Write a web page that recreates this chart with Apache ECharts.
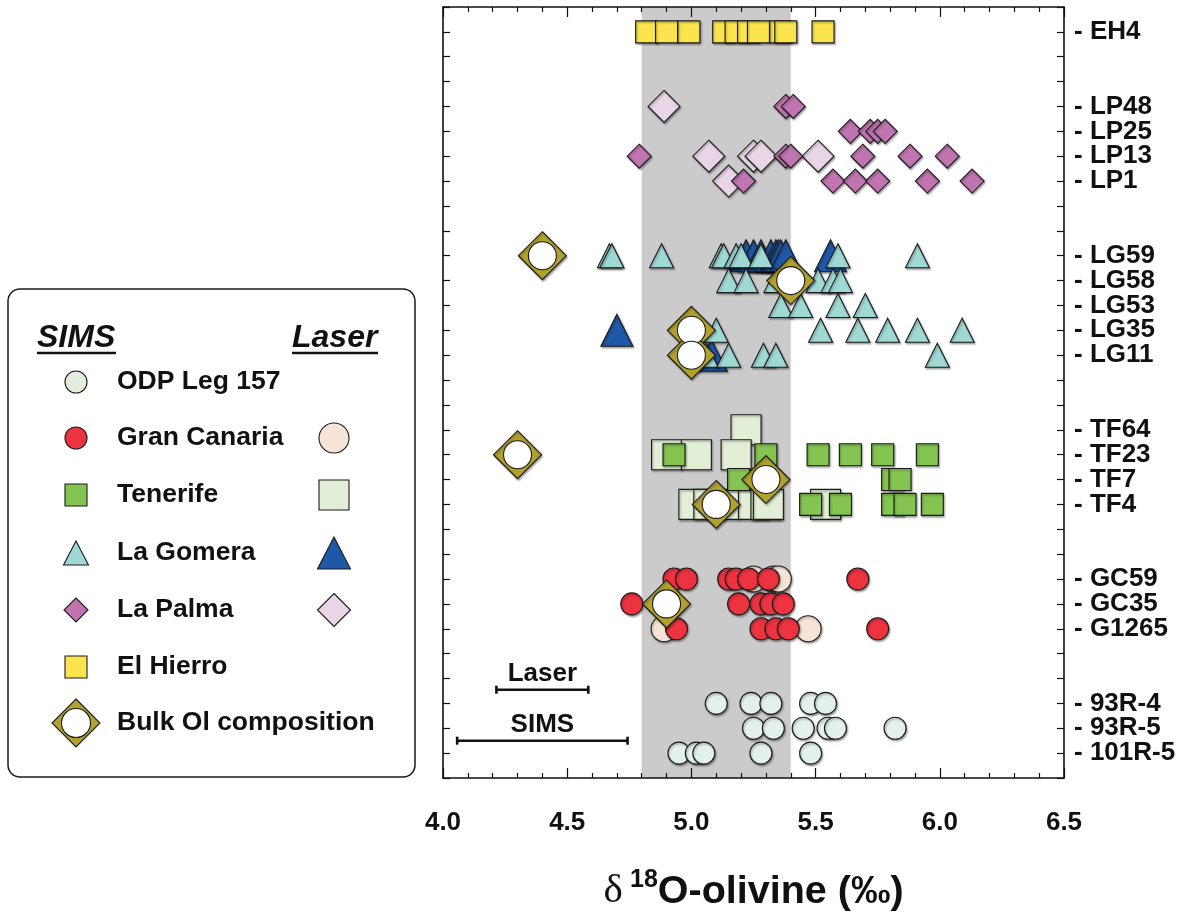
<!DOCTYPE html>
<html>
<head>
<meta charset="utf-8">
<title>δ18O olivine – Canary Islands</title>
<script src="https://cdn.jsdelivr.net/npm/echarts@6/dist/echarts.min.js"></script>
<style>
  html, body { margin: 0; padding: 0; background: #ffffff; }
  #chart { width: 1193px; height: 920px; }
</style>
</head>
<body>
<div id="chart"></div>
<script>
// Sample rows, bottom to top; the index is the row's position on the y axis.
const rowLabels = ['', '101R-5', '93R-5', '93R-4', '', '', 'G1265', 'GC35', 'GC59', '', '',
  'TF4', 'TF7', 'TF23', 'TF64', '', '', 'LG11', 'LG35', 'LG53', 'LG58', 'LG59', '', '',
  'LP1', 'LP13', 'LP25', 'LP48', '', '', 'EH4', ''];

const xTicks = [4.0, 4.5, 5.0, 5.5, 6.0, 6.5];
const mantleRange = [4.8, 5.4];

// δ18O olivine (‰) per sample: [sample, value]
const odpSims = [
  ['93R-4', 5.10], ['93R-4', 5.24], ['93R-4', 5.32], ['93R-4', 5.48], ['93R-4', 5.54],
  ['93R-5', 5.25], ['93R-5', 5.33], ['93R-5', 5.45], ['93R-5', 5.55], ['93R-5', 5.58], ['93R-5', 5.82],
  ['101R-5', 4.95], ['101R-5', 5.02], ['101R-5', 5.05], ['101R-5', 5.28], ['101R-5', 5.48]
];
const granCanariaSims = [
  ['GC59', 4.93], ['GC59', 4.98], ['GC59', 5.15], ['GC59', 5.18], ['GC59', 5.23], ['GC59', 5.31], ['GC59', 5.67],
  ['GC35', 4.76], ['GC35', 5.19], ['GC35', 5.28], ['GC35', 5.32], ['GC35', 5.37],
  ['G1265', 4.94], ['G1265', 5.28], ['G1265', 5.34], ['G1265', 5.39], ['G1265', 5.75]
];
const granCanariaLaser = [
  ['GC59', 5.25], ['GC59', 5.33], ['GC59', 5.35],
  ['G1265', 4.89], ['G1265', 5.47]
];
const tenerifeSims = [
  ['TF23', 4.93], ['TF23', 5.30], ['TF23', 5.51], ['TF23', 5.64], ['TF23', 5.77], ['TF23', 5.95],
  ['TF7', 5.19], ['TF7', 5.81], ['TF7', 5.84],
  ['TF4', 5.48], ['TF4', 5.60], ['TF4', 5.81], ['TF4', 5.86], ['TF4', 5.97]
];
const tenerifeLaser = [
  ['TF64', 5.22],
  ['TF23', 4.90], ['TF23', 5.02], ['TF23', 5.18],
  ['TF4', 5.01], ['TF4', 5.07], ['TF4', 5.13], ['TF4', 5.25], ['TF4', 5.30], ['TF4', 5.31], ['TF4', 5.54]
];
const laGomeraSims = [
  ['LG59', 4.67], ['LG59', 4.68], ['LG59', 4.88], ['LG59', 5.12], ['LG59', 5.13], ['LG59', 5.18],
  ['LG59', 5.20], ['LG59', 5.28], ['LG59', 5.59], ['LG59', 5.91],
  ['LG58', 5.15], ['LG58', 5.22], ['LG58', 5.34], ['LG58', 5.51], ['LG58', 5.57], ['LG58', 5.60],
  ['LG53', 5.36], ['LG53', 5.44], ['LG53', 5.59], ['LG53', 5.70],
  ['LG35', 5.10], ['LG35', 5.52], ['LG35', 5.67], ['LG35', 5.79], ['LG35', 5.91], ['LG35', 6.09],
  ['LG11', 5.06], ['LG11', 5.15], ['LG11', 5.29], ['LG11', 5.34], ['LG11', 5.99]
];
const laGomeraLaser = [
  ['LG59', 5.22], ['LG59', 5.25], ['LG59', 5.28], ['LG59', 5.32], ['LG59', 5.34],
  ['LG59', 5.35], ['LG59', 5.36], ['LG59', 5.38], ['LG59', 5.56],
  ['LG35', 4.70],
  ['LG11', 5.08]
];
const laPalmaSims = [
  ['LP48', 5.38], ['LP48', 5.41],
  ['LP25', 5.64], ['LP25', 5.72], ['LP25', 5.75], ['LP25', 5.78],
  ['LP13', 4.79], ['LP13', 5.38], ['LP13', 5.40], ['LP13', 5.69], ['LP13', 5.88], ['LP13', 6.03],
  ['LP1', 5.21], ['LP1', 5.57], ['LP1', 5.66], ['LP1', 5.75], ['LP1', 5.95], ['LP1', 6.13]
];
const laPalmaLaser = [
  ['LP48', 4.89],
  ['LP13', 5.07], ['LP13', 5.25], ['LP13', 5.28], ['LP13', 5.51],
  ['LP1', 5.15]
];
const elHierroSims = [
  ['EH4', 4.82], ['EH4', 4.90], ['EH4', 4.99], ['EH4', 5.13], ['EH4', 5.18],
  ['EH4', 5.23], ['EH4', 5.27], ['EH4', 5.36], ['EH4', 5.38], ['EH4', 5.53]
];
const bulkOlivine = [
  ['LG59', 4.40], ['LG58', 5.40], ['LG35', 5.00], ['LG11', 5.00],
  ['TF23', 4.30], ['TF7', 5.30], ['TF4', 5.10], ['GC35', 4.90]
];

// Analytical precision (±‰) shown as scale bars
const precisionNames = ['Laser', 'SIMS'];
const precisionHalfRange = [0.185, 0.343];
const precisionCentre = 4.40;

// ---------------------------------------------------------------------------
const FONT = "'Liberation Sans', Arial, Helvetica, sans-serif";
const INK = '#111111';
const EDGE = { borderColor: '#1a1a1a', borderWidth: 1.1,
  shadowColor: 'rgba(0,0,0,0.35)', shadowBlur: 2, shadowOffsetX: 1, shadowOffsetY: 1.5 };

const toPoints = rows => rows.map(([s, v]) => [v, rowLabels.indexOf(s)]);

function scatter(name, rows, symbol, size, color, extra) {
  return Object.assign({
    name, type: 'scatter', data: toPoints(rows), symbol, symbolSize: size,
    itemStyle: Object.assign({ color, opacity: 1 }, EDGE),
    emphasis: { disabled: true }, silent: true, z: 3
  }, extra || {});
}

const axisLineStyle = { color: INK, width: 1.6 };
const tickStyle = { color: INK, width: 1.2 };

function xAxisDef(position, showLabel) {
  return {
    type: 'value', position, min: xTicks[0], max: xTicks[xTicks.length - 1],
    interval: xTicks[1] - xTicks[0], z: 6,
    axisLine: { show: true, onZero: false, lineStyle: axisLineStyle },
    axisTick: { show: true, inside: true, length: 10, lineStyle: tickStyle },
    minorTick: { show: true, splitNumber: 5, length: 5, lineStyle: tickStyle },
    splitLine: { show: false },
    axisLabel: {
      show: showLabel, margin: 32, color: INK, fontFamily: FONT, fontWeight: 'bold', fontSize: 26,
      formatter: v => v.toFixed(1)
    }
  };
}

function yAxisDef(position, showLabel) {
  return {
    type: 'value', position, min: 0, max: rowLabels.length - 1, interval: 1, z: 6,
    axisLine: { show: true, onZero: false, lineStyle: axisLineStyle },
    axisTick: { show: true, inside: true, length: 7, lineStyle: tickStyle },
    splitLine: { show: false },
    axisLabel: {
      show: showLabel, margin: 10, color: INK, fontFamily: FONT, fontWeight: 'bold', fontSize: 26,
      formatter: v => (rowLabels[v] ? '- ' + rowLabels[v] : '')
    }
  };
}

// Legend panel --------------------------------------------------------------
const LX_SIMS = 76, LX_LASER = 334, LX_TEXT = 117;
const legendRows = [
  { label: 'ODP Leg 157', y: 382 },
  { label: 'Gran Canaria', y: 438 },
  { label: 'Tenerife', y: 495 },
  { label: 'La Gomera', y: 553 },
  { label: 'La Palma', y: 610 },
  { label: 'El Hierro', y: 667 },
  { label: 'Bulk Ol composition', y: 723 }
];
const gStroke = { stroke: '#1a1a1a', lineWidth: 1.1 };
const circleG = (x, y, r, fill) => ({ type: 'circle', shape: { cx: x, cy: y, r }, style: Object.assign({ fill }, gStroke) });
const squareG = (x, y, s, fill) => ({ type: 'rect', shape: { x: x - s / 2, y: y - s / 2, width: s, height: s }, style: Object.assign({ fill }, gStroke) });
const triG = (x, y, w, h, fill) => ({ type: 'polygon', shape: { points: [[x, y - h / 2], [x + w / 2, y + h / 2], [x - w / 2, y + h / 2]] }, style: Object.assign({ fill }, gStroke) });
const diaG = (x, y, r, fill) => ({ type: 'polygon', shape: { points: [[x, y - r], [x + r, y], [x, y + r], [x - r, y]] }, style: Object.assign({ fill }, gStroke) });

const legendGraphics = [
  { type: 'rect', shape: { x: 8, y: 289, width: 407, height: 488, r: 12 },
    style: { fill: '#ffffff', stroke: '#1a1a1a', lineWidth: 1.5 } },
  { type: 'text', x: 37, y: 338, style: { text: 'SIMS', font: "italic bold 32px " + FONT, fill: INK, verticalAlign: 'middle' } },
  { type: 'text', x: 292, y: 338, style: { text: 'Laser', font: "italic bold 32px " + FONT, fill: INK, verticalAlign: 'middle' } },
  { type: 'line', shape: { x1: 37, y1: 353, x2: 116, y2: 353 }, style: { stroke: INK, lineWidth: 2.5 } },
  { type: 'line', shape: { x1: 292, y1: 353, x2: 378, y2: 353 }, style: { stroke: INK, lineWidth: 2.5 } },
  circleG(LX_SIMS, 382, 11, '#e2efdc'),
  circleG(LX_SIMS, 438, 11, '#ee3340'), circleG(LX_LASER, 438, 15, '#f7e4d6'),
  squareG(LX_SIMS, 495, 22, '#84c450'), squareG(LX_LASER, 495, 30, '#e2efd6'),
  triG(LX_SIMS, 553, 25, 24, '#9fd9d4'), triG(LX_LASER, 553, 33, 32, '#1f58a8'),
  diaG(LX_SIMS, 610, 12, '#c175b0'), diaG(LX_LASER, 610, 16.5, '#e8d6e6'),
  squareG(LX_SIMS, 667, 22, '#fbe44e'),
  diaG(LX_SIMS, 723, 24, '#b3a12e'), circleG(LX_SIMS, 723, 14.5, '#ffffff')
].concat(legendRows.map(r => ({
  type: 'text', x: LX_TEXT, y: r.y,
  style: { text: r.label, font: "bold 26.5px " + FONT, fill: INK, verticalAlign: 'middle' }
})));

// Precision scale bars, drawn in data space
const precisionRowY = [3.55, 1.5];
const precisionData = precisionNames.map((n, i) => [precisionCentre, precisionHalfRange[i], precisionRowY[i]]);

const chart = echarts.init(document.getElementById('chart'), null, { renderer: 'canvas' });

chart.setOption({
  animation: false,
  backgroundColor: '#ffffff',
  grid: { left: 443, right: 129, top: 7, bottom: 142, containLabel: false },
  xAxis: [
    Object.assign(xAxisDef('bottom', true), {
      name: '{d|δ} {s|18}{m|O-olivine (‰)}',
      nameLocation: 'middle', nameGap: 90,
      nameTextStyle: {
        rich: {
          d: { fontFamily: "'Liberation Serif', 'Times New Roman', serif", fontSize: 41, color: INK, verticalAlign: 'bottom', lineHeight: 44, padding: [0, 4, 0, 0] },
          s: { fontFamily: FONT, fontWeight: 'bold', fontSize: 25, color: INK, verticalAlign: 'top', lineHeight: 44, padding: [0, 0, 16, 0] },
          m: { fontFamily: FONT, fontWeight: 'bold', fontSize: 39.5, color: INK, verticalAlign: 'bottom', lineHeight: 44 }
        }
      }
    }),
    xAxisDef('top', false)
  ],
  yAxis: [yAxisDef('right', true), yAxisDef('left', false)],
  graphic: legendGraphics,
  series: [
    {
      type: 'scatter', data: [], silent: true, z: 1,
      markArea: {
        silent: true, itemStyle: { color: '#cbcbcb' },
        data: [[{ xAxis: mantleRange[0] }, { xAxis: mantleRange[1] }]]
      }
    },
    {
      type: 'custom', silent: true, z: 4,
      data: precisionData,
      renderItem: (params, api) => {
        const c = api.value(0), h = api.value(1), y = api.value(2);
        const a = api.coord([c - h, y]);
        const b = api.coord([c + h, y]);
        const ls = { stroke: INK, lineWidth: 2.6 };
        return {
          type: 'group', children: [
            { type: 'line', shape: { x1: a[0], y1: a[1], x2: b[0], y2: b[1] }, style: ls },
            { type: 'line', shape: { x1: a[0], y1: a[1] - 4, x2: a[0], y2: a[1] + 4 }, style: ls },
            { type: 'line', shape: { x1: b[0], y1: b[1] - 4, x2: b[0], y2: b[1] + 4 }, style: ls },
            { type: 'text', style: {
                text: precisionNames[params.dataIndex], x: (a[0] + b[0]) / 2, y: a[1] - 16,
                align: 'center', verticalAlign: 'middle', fill: INK,
                fontFamily: FONT, fontWeight: 'bold', fontSize: 26 } }
          ]
        };
      }
    },
    // laser analyses underneath
    scatter('Gran Canaria (laser)', granCanariaLaser, 'circle', 26, '#f7e4d6'),
    scatter('Tenerife (laser)', tenerifeLaser, 'rect', 30, '#e2efd6'),
    scatter('La Gomera (laser)', laGomeraLaser, 'triangle', [32, 32], '#1f58a8'),
    scatter('La Palma (laser)', laPalmaLaser, 'diamond', [32, 32], '#e8d6e6'),
    // SIMS analyses
    scatter('ODP Leg 157', odpSims, 'circle', 22, '#e3f1ec'),
    scatter('Gran Canaria', granCanariaSims, 'circle', 22, '#ee3340'),
    scatter('Tenerife', tenerifeSims, 'rect', 22, '#84c450'),
    scatter('La Gomera', laGomeraSims, 'triangle', [24, 24], '#9fd9d4'),
    scatter('La Palma', laPalmaSims, 'diamond', [24, 24], '#c175b0'),
    scatter('El Hierro', elHierroSims, 'rect', 22, '#fbe44e'),
    // bulk olivine: olive diamond with an open circle
    scatter('Bulk Ol composition', bulkOlivine, 'diamond', [48, 48], '#b3a12e', { z: 5 }),
    {
      type: 'scatter', data: toPoints(bulkOlivine), symbol: 'circle', symbolSize: 28, silent: true, z: 5,
      emphasis: { disabled: true },
      itemStyle: { color: '#ffffff', opacity: 1, borderColor: '#1a1a1a', borderWidth: 1.1 }
    }
  ]
});
</script>
</body>
</html>
